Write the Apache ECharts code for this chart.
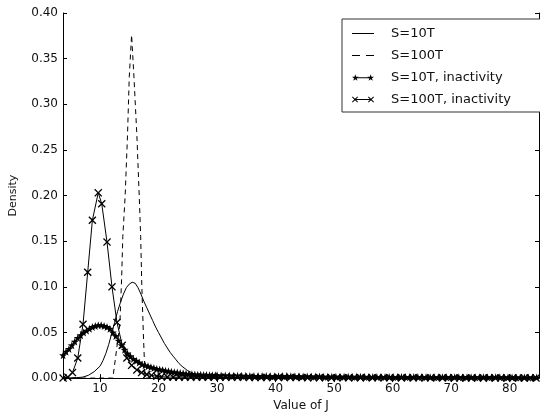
<!DOCTYPE html>
<html>
<head>
<meta charset="utf-8">
<script src="https://cdn.jsdelivr.net/npm/echarts@6/dist/echarts.min.js"></script>
<style>
  html, body { margin: 0; padding: 0; background: #fff; }
  #chart { width: 540px; height: 417px; }
</style>
</head>
<body>
<div id="chart"></div>
<script>
// values
const seriesNames = ['S=10T', 'S=100T', 'S=10T, inactivity', 'S=100T, inactivity'];
const xTicks = [10, 20, 30, 40, 50, 60, 70, 80];

const j10T = [3.7, 6, 7, 8, 9, 10, 10.5, 11, 11.5, 12, 12.5, 13, 13.5, 14, 14.5, 15, 15.5, 16, 16.5, 17, 17.5, 18, 18.5, 19, 19.5,
  20, 20.5, 21, 21.5, 22, 22.5, 23, 23.5, 24, 25, 26, 27, 28, 30, 35, 85];
const d10T = [0, 0.0005, 0.001, 0.003, 0.007, 0.013, 0.019, 0.027, 0.037, 0.049, 0.061, 0.073, 0.083, 0.092, 0.099, 0.103, 0.105, 0.104, 0.099, 0.092, 0.084, 0.077, 0.07, 0.063, 0.056,
  0.05, 0.044, 0.038, 0.033, 0.028, 0.024, 0.02, 0.016, 0.013, 0.008, 0.005, 0.003, 0.002, 0.001, 0, 0];

const j100T = [3.7, 12.2, 12.85, 13.4, 13.7, 13.9, 14.3, 14.7, 15.0, 15.4, 15.8, 16.3, 16.7, 16.95, 17.15, 17.4, 17.7, 85];
const d100T = [0, 0, 0.032, 0.06, 0.11, 0.155, 0.2, 0.266, 0.33, 0.376, 0.33, 0.266, 0.2, 0.155, 0.1, 0.05, 0, 0];

const j10TInact = [
  3.7, 4.2, 4.7, 5.2, 5.7, 6.2, 6.7, 7.2, 7.7, 8.2, 8.7, 9.2, 9.7, 10.2, 10.7, 11.2, 11.7, 12.2, 12.7, 13.2,
  13.7, 14.2, 14.7, 15.2, 15.7, 16.2, 16.7, 17.2, 17.7, 18.2, 18.7, 19.2, 19.7, 20.2, 20.7, 21.2, 21.7, 22.2,
  22.7, 23.2, 23.7, 24.2, 24.7, 25.2, 25.7, 26.2, 26.7, 27.2, 27.7, 28.2, 28.7, 29.2, 29.7,
  30, 30.7, 31.4, 32.1, 32.8, 33.5, 34.2, 34.9, 35.6, 36.3, 37, 37.7, 38.4, 39.1, 39.8, 40.5, 41.2, 41.9, 42.6, 43.3,
  44, 44.7, 45.4, 46.1, 46.8, 47.5, 48.2, 48.9, 49.6, 50.3, 51, 51.7, 52.4, 53.1, 53.8, 54.5, 55.2, 55.9, 56.6, 57.3,
  58, 58.7, 59.4, 60.1, 60.8, 61.5, 62.2, 62.9, 63.6, 64.3, 65, 65.7, 66.4, 67.1, 67.8, 68.5, 69.2, 69.9, 70.6, 71.3,
  72, 72.7, 73.4, 74.1, 74.8, 75.5, 76.2, 76.9, 77.6, 78.3, 79, 79.7, 80.4, 81.1, 81.8, 82.5, 83.2, 83.9, 84.6
];
const d10TInact = [
  0.025, 0.029, 0.032, 0.036, 0.04, 0.044, 0.047, 0.05, 0.052, 0.054, 0.056, 0.057, 0.058, 0.058, 0.057, 0.056, 0.054, 0.05, 0.046, 0.041,
  0.036, 0.031, 0.027, 0.024, 0.021, 0.019, 0.017, 0.015, 0.014, 0.013, 0.012, 0.011, 0.01, 0.0095, 0.0088, 0.008, 0.0075, 0.007,
  0.0065, 0.006, 0.0056, 0.0052, 0.0048, 0.0045, 0.0042, 0.004, 0.0038, 0.0036, 0.0034, 0.0033, 0.0032, 0.0031, 0.003,
  0.003, 0.0029, 0.0029, 0.0028, 0.0027, 0.0026, 0.0026, 0.0025, 0.0024, 0.0024, 0.0023, 0.0022, 0.0022, 0.0021, 0.0021, 0.002, 0.0022, 0.0023, 0.002, 0.0019,
  0.0019, 0.0018, 0.0018, 0.0018, 0.0017, 0.0017, 0.0016, 0.0016, 0.0016, 0.0015, 0.0015, 0.0015, 0.0015, 0.0014, 0.0014, 0.0014, 0.0014, 0.0013, 0.0013, 0.0013,
  0.0013, 0.0012, 0.0012, 0.0012, 0.0012, 0.0012, 0.0011, 0.0011, 0.0011, 0.0011, 0.0011, 0.001, 0.001, 0.001, 0.001, 0.001, 0.001, 0.001, 0.0009, 0.0009,
  0.0009, 0.0009, 0.0009, 0.0009, 0.0008, 0.0008, 0.0008, 0.0008, 0.0008, 0.0008, 0.0008, 0.0007, 0.0007, 0.0007, 0.0007, 0.0007, 0.0007, 0.0007, 0.0007
];

const j100TInact = [
  3.7, 4.5, 5.3, 6.2, 7.1, 7.9, 8.7, 9.7, 10.3, 11.2, 12.05, 12.9, 13.8, 14.6, 15.4, 16.3, 17.1, 18.0, 18.8, 19.7, 20.5,
  21.5, 22.5, 23.5, 24.5, 25.5, 26.5, 27.5, 28.5, 29.5, 30.5, 31.5, 32.5, 33.5, 34.5, 35.5, 36.5, 37.5, 38.5, 39.5,
  40.5, 41.5, 42.5, 43.5, 44.5, 45.5, 46.5, 47.5, 48.5, 49.5, 50.5, 51.5, 52.5, 53.5, 54.5, 55.5, 56.5, 57.5, 58.5, 59.5,
  60.5, 61.5, 62.5, 63.5, 64.5, 65.5, 66.5, 67.5, 68.5, 69.5, 70.5, 71.5, 72.5, 73.5, 74.5, 75.5, 76.5, 77.5, 78.5, 79.5,
  80.5, 81.5, 82.5, 83.5, 84.5
];
const d100TInact = [
  0, 0.001, 0.006, 0.022, 0.059, 0.116, 0.173, 0.203, 0.191, 0.149, 0.1, 0.061, 0.036, 0.022, 0.014, 0.009, 0.006, 0.004, 0.003, 0.002, 0.0015,
  0.0012, 0.001, 0.001, 0.001, 0.001, 0.001, 0.001, 0.0009, 0.0009, 0.0009, 0.0008, 0.0008, 0.0008, 0.0008, 0.0007, 0.0007, 0.0007, 0.0007, 0.0006,
  0.0006, 0.0006, 0.0006, 0.0006, 0.0006, 0.0005, 0.0005, 0.0005, 0.0005, 0.0005, 0.0005, 0.0005, 0.0004, 0.0004, 0.0004, 0.0004, 0.0004, 0.0004, 0.0004, 0.0004,
  0.0003, 0.0003, 0.0003, 0.0003, 0.0003, 0.0003, 0.0003, 0.0003, 0.0003, 0.0003, 0.0002, 0.0002, 0.0002, 0.0002, 0.0002, 0.0002, 0.0002, 0.0002, 0.0002, 0.0002,
  0.0002, 0.0002, 0.0002, 0.0002, 0.0002
];

const pairs = (xs, ys) => xs.map((x, i) => [x, ys[i]]);

// marker shapes (matplotlib '*' and 'x')
const starPath = 'path://M3.33,0L4.15,2.37L6.66,2.42L4.66,3.93L5.39,6.33L3.33,4.9L1.27,6.33L2,3.93L0,2.42L2.51,2.37Z';
const crossPath = 'path://M0,0.7L0.7,0L3,2.3L5.3,0L6,0.7L3.7,3L6,5.3L5.3,6L3,3.7L0.7,6L0,5.3L2.3,3Z';

// legend samples: line with a marker at both ends
const iconSolid = 'path://M0,0h22v1h-22z';
const iconDashed = 'path://M0,0h8v1h-8zM14,0h8v1h-8z';
const iconStar = 'path://M3.33,0L4.15,2.37L6.66,2.42L4.66,3.93L5.39,6.33L3.33,4.9L1.27,6.33L2,3.93L0,2.42L2.51,2.37Z' +
  'M18.67,0L19.49,2.37L22,2.42L20,3.93L20.73,6.33L18.67,4.9L16.61,6.33L17.34,3.93L15.34,2.42L17.85,2.37Z' +
  'M3.33,3h15.34v1h-15.34z';
const iconCross = 'path://M0,0.7L0.7,0L3,2.3L5.3,0L6,0.7L3.7,3L6,5.3L5.3,6L3,3.7L0.7,6L0,5.3L2.3,3Z' +
  'M16,0.7L16.7,0L19,2.3L21.3,0L22,0.7L19.7,3L22,5.3L21.3,6L19,3.7L16.7,6L16,5.3L18.3,3Z' +
  'M3,2.5h16v1h-16z';

const font = 'DejaVu Sans';
const XMIN = 3.68, XMAX = 85;

const chart = echarts.init(document.getElementById('chart'), null, { renderer: 'canvas' });

const tickStyle = { inside: true, length: 4, lineStyle: { color: '#000', width: 1 } };

chart.setOption({
  animation: false,
  backgroundColor: '#fff',
  grid: { left: 63, top: 13, right: 1, bottom: 34, containLabel: false },
  legend: {
    orient: 'vertical',
    left: 342,
    top: 19,
    padding: [8, 30, 6, 10],
    itemGap: 9,
    itemWidth: 22,
    itemHeight: 12,
    borderColor: '#333',
    borderWidth: 1,
    borderRadius: 0,
    backgroundColor: '#fff',
    textStyle: { fontFamily: font, fontSize: 13, color: '#111', padding: [0, 0, 0, 12] },
    data: [
      { name: seriesNames[0], icon: iconSolid },
      { name: seriesNames[1], icon: iconDashed },
      { name: seriesNames[2], icon: iconStar },
      { name: seriesNames[3], icon: iconCross }
    ]
  },
  xAxis: [
    {
      type: 'value', min: XMIN, max: XMAX,
      name: 'Value of J', nameLocation: 'middle', nameGap: 17,
      nameTextStyle: { fontFamily: font, fontSize: 12, color: '#111' },
      axisLine: { lineStyle: { color: '#000', width: 1 } },
      axisTick: Object.assign({ customValues: xTicks }, tickStyle),
      axisLabel: { customValues: xTicks, margin: 5, fontFamily: font, fontSize: 12, color: '#111' },
      splitLine: { show: false }
    },
    {
      type: 'value', min: XMIN, max: XMAX, position: 'top',
      axisLine: { lineStyle: { color: '#000', width: 1 } },
      axisTick: Object.assign({ customValues: xTicks }, tickStyle),
      axisLabel: { show: false },
      splitLine: { show: false }
    }
  ],
  yAxis: [
    {
      type: 'value', min: 0, max: 0.4, interval: 0.05,
      name: 'Density', nameLocation: 'middle', nameGap: 44,
      nameTextStyle: { fontFamily: font, fontSize: 11, color: '#111' },
      axisLine: { show: true, lineStyle: { color: '#000', width: 1 } },
      axisTick: tickStyle,
      axisLabel: { margin: 5, fontFamily: font, fontSize: 12, color: '#111', formatter: v => v.toFixed(2) },
      splitLine: { show: false }
    },
    {
      type: 'value', min: 0, max: 0.4, interval: 0.05, position: 'right',
      axisLine: { show: true, lineStyle: { color: '#000', width: 1 } },
      axisTick: tickStyle,
      axisLabel: { show: false },
      splitLine: { show: false }
    }
  ],
  series: [
    {
      name: seriesNames[0], type: 'line', data: pairs(j10T, d10T),
      showSymbol: false,
      lineStyle: { color: '#000', width: 1 }, itemStyle: { color: '#000' }
    },
    {
      name: seriesNames[1], type: 'line', data: pairs(j100T, d100T),
      showSymbol: false,
      lineStyle: { color: '#000', width: 1, type: [5, 4] }, itemStyle: { color: '#000' }
    },
    {
      name: seriesNames[2], type: 'line', data: pairs(j10TInact, d10TInact),
      symbol: starPath, symbolSize: 8, showAllSymbol: true,
      lineStyle: { color: '#000', width: 1 }, itemStyle: { color: '#000', borderWidth: 0 }
    },
    {
      name: seriesNames[3], type: 'line', data: pairs(j100TInact, d100TInact),
      symbol: crossPath, symbolSize: 8, showAllSymbol: true,
      lineStyle: { color: '#000', width: 1 }, itemStyle: { color: '#000', borderWidth: 0 }
    }
  ]
});
</script>
</body>
</html>
